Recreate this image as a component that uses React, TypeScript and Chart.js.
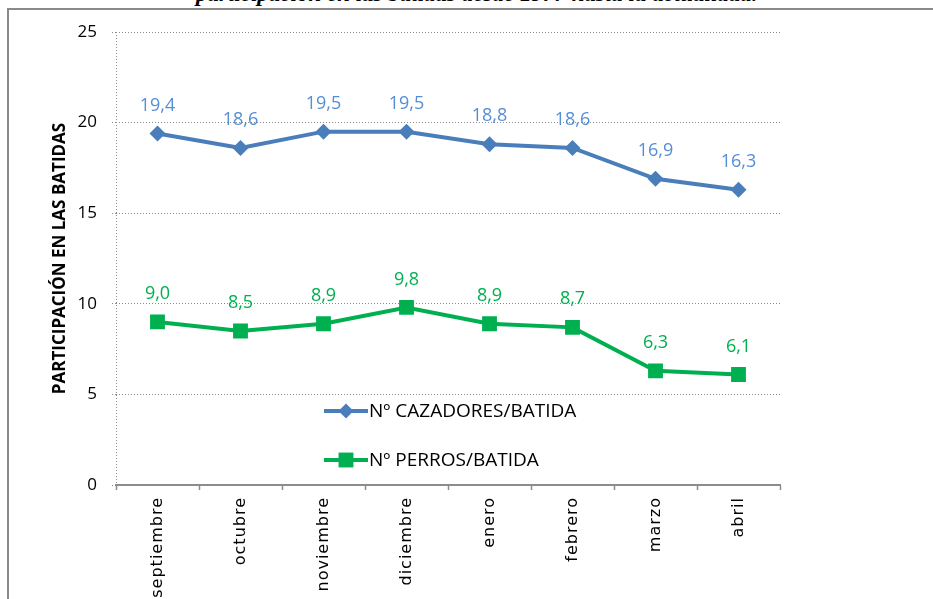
import React, { useEffect, useRef } from "react";
import { Chart, registerables } from "chart.js";

Chart.register(...registerables);

const months = ["septiembre", "octubre", "noviembre", "diciembre", "enero", "febrero", "marzo", "abril"];
const cazadores = [19.4, 18.6, 19.5, 19.5, 18.8, 18.6, 16.9, 16.3];
const perros = [9.0, 8.5, 8.9, 9.8, 8.9, 8.7, 6.3, 6.1];
const seriesNames = ["Nº CAZADORES/BATIDA", "Nº PERROS/BATIDA"];
const yMin = 0;
const yMax = 25;
const yStep = 5;
const yTitle = "PARTICIPACIÓN EN LAS BATIDAS";
const headerText = "participación en las batidas desde 1977 hasta la actualidad.";

const BLUE = "#4A7EBB";
const BLUE_LABEL = "#558ED5";
const GREEN = "#00B050";
const GRID = "#8c8c8c";

const fmt = (v: number) => v.toFixed(1).replace(".", ",");

function drawMarker(ctx: CanvasRenderingContext2D, style: string, x: number, y: number, r: number, color: string) {
  ctx.save();
  ctx.fillStyle = color;
  ctx.beginPath();
  if (style === "rectRot") {
    ctx.moveTo(x, y - r);
    ctx.lineTo(x + r, y);
    ctx.lineTo(x, y + r);
    ctx.lineTo(x - r, y);
    ctx.closePath();
  } else {
    const h = r * Math.SQRT1_2;
    ctx.rect(x - h, y - h, 2 * h, 2 * h);
  }
  ctx.fill();
  ctx.restore();
}

const labelsPlugin = {
  id: "valueLabels",
  afterDatasetsDraw(chart: any) {
    const ctx = chart.ctx as CanvasRenderingContext2D;
    chart.data.datasets.forEach((ds: any, i: number) => {
      const meta = chart.getDatasetMeta(i);
      ctx.save();
      ctx.font = "18px 'Open Sans'";
      ctx.fillStyle = ds.valueColor;
      ctx.textAlign = "center";
      ctx.textBaseline = "middle";
      meta.data.forEach((el: any, j: number) => {
        ctx.fillText(fmt(ds.data[j]), el.x, el.y - 28);
      });
      ctx.restore();
    });
  },
};

const legendPlugin = {
  id: "insideLegend",
  afterDraw(chart: any) {
    const ctx = chart.ctx as CanvasRenderingContext2D;
    const rows = [411, 460];
    chart.data.datasets.forEach((ds: any, i: number) => {
      const y = rows[i];
      ctx.save();
      ctx.strokeStyle = ds.borderColor;
      ctx.lineWidth = 4;
      ctx.beginPath();
      ctx.moveTo(324, y);
      ctx.lineTo(368, y);
      ctx.stroke();
      drawMarker(ctx, ds.pointStyle, 346, y, ds.pointStyle === "rectRot" ? 7.5 : 10.5, ds.borderColor);
      ctx.font = "19px 'Open Sans'";
      ctx.fillStyle = "#000";
      ctx.textAlign = "left";
      ctx.textBaseline = "middle";
      ctx.fillText(ds.label, 369, y + 1);
      ctx.restore();
    });
  },
};

const spacingPlugin = {
  id: "xLabelSpacing",
  beforeDraw(chart: any) {
    const sx = chart.scales.x;
    if (sx && !sx.__patched) {
      const orig = sx.drawLabels.bind(sx);
      sx.drawLabels = (ca: any) => {
        const ctx = chart.ctx;
        ctx.save();
        ctx.letterSpacing = "1px";
        orig(ca);
        ctx.restore();
      };
      sx.__patched = true;
    }
  },
};

export default function App() {
  const ref = useRef<HTMLCanvasElement>(null);

  useEffect(() => {
    if (!ref.current) return;
    const chart = new Chart(ref.current, {
      type: "line",
      data: {
        labels: months,
        datasets: [
          {
            label: seriesNames[0],
            data: cazadores,
            borderColor: BLUE,
            backgroundColor: BLUE,
            borderWidth: 4,
            pointStyle: "rectRot",
            pointRadius: 8,
            pointBorderWidth: 0,
            pointBackgroundColor: BLUE,
            tension: 0,
            valueColor: BLUE_LABEL,
          } as any,
          {
            label: seriesNames[1],
            data: perros,
            borderColor: GREEN,
            backgroundColor: GREEN,
            borderWidth: 4,
            pointStyle: "rect",
            pointRadius: 10.5,
            pointBorderWidth: 0,
            pointBackgroundColor: GREEN,
            tension: 0,
            valueColor: GREEN,
          } as any,
        ],
      },
      options: {
        animation: false,
        responsive: false,
        layout: { padding: { left: 46, right: 153, top: 32, bottom: 0 } },
        plugins: { legend: { display: false }, tooltip: { enabled: false } },
        scales: {
          x: {
            offset: true,
            grid: {
              offset: true,
              drawOnChartArea: true,
              drawTicks: true,
              tickLength: 5,
              color: (c: any) => (c.index === 0 ? GRID : "rgba(0,0,0,0)"),
              tickColor: GRID,
              lineWidth: 1,
              tickWidth: 1.5,
              tickBorderDash: [],
            },
            border: { color: GRID, width: 2, dash: [1, 2] },
            ticks: {
              maxRotation: 90,
              minRotation: 90,
              autoSkip: false,
              padding: 7,
              color: "#000",
              font: { family: "'DejaVu Sans'", size: 16 },
            },
            afterFit: (s: any) => {
              s.height = 114;
            },
          },
          y: {
            min: yMin,
            max: yMax,
            ticks: {
              stepSize: yStep,
              padding: 15,
              color: "#000",
              font: { family: "'Open Sans'", size: 17 },
            },
            grid: {
              color: GRID,
              lineWidth: 1,
              tickLength: 4,
              tickColor: GRID,
              tickBorderDash: [1, 2],
            },
            border: { display: false, dash: [1, 2] },
            title: {
              display: true,
              text: yTitle,
              color: "#000",
              font: { family: "'Open Sans'", size: 17, weight: "bold" },
              padding: { top: 4, bottom: 4 },
            },
            afterFit: (s: any) => {
              s.width = 70;
            },
          },
        },
      } as any,
      plugins: [labelsPlugin, legendPlugin, spacingPlugin],
    });
    return () => chart.destroy();
  }, []);

  return (
    <div style={{ position: "fixed", left: 0, top: 0, width: 933, height: 599, overflow: "hidden", background: "#fff" }}>
      <div
        style={{
          position: "absolute",
          left: 196,
          top: -18,
          fontFamily: "'Liberation Serif', serif",
          fontStyle: "italic",
          fontWeight: "bold",
          fontSize: 23,
          lineHeight: "23px",
          whiteSpace: "nowrap",
          color: "#000",
        }}
      >
        {headerText}
      </div>
      <div
        style={{
          position: "absolute",
          left: 7,
          top: 8,
          width: 940,
          height: 600,
          borderLeft: "2px solid #8a8a8a",
          borderTop: "2px solid #8a8a8a",
        }}
      />
      <canvas ref={ref} width={933} height={599} style={{ position: "absolute", left: 0, top: 0, width: 933, height: 599 }} />
    </div>
  );
}
